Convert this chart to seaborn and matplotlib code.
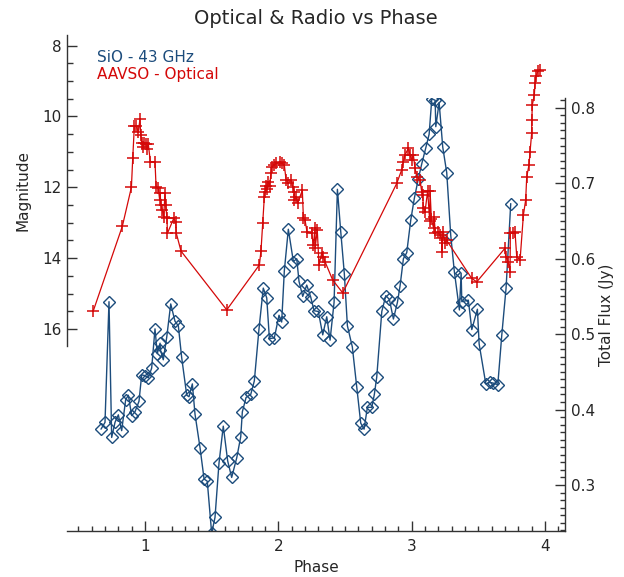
import matplotlib
matplotlib.use("Agg")
import matplotlib.pyplot as plt
import seaborn as sns
from matplotlib.ticker import MultipleLocator

# AAVSO optical light curve (phase, visual magnitude)
opt_phase = [0.612, 0.830, 0.898, 0.908, 0.920, 0.935, 0.950, 0.962, 0.968, 0.975,
             0.985, 0.995, 1.005, 1.015, 1.025, 1.040, 1.075, 1.083, 1.100, 1.110,
             1.113, 1.120, 1.130, 1.140, 1.150, 1.155, 1.165, 1.168, 1.215, 1.230,
             1.235, 1.270, 1.613, 1.858, 1.870, 1.883, 1.895, 1.903, 1.910, 1.915,
             1.925, 1.935, 1.945, 1.950, 1.970, 1.983, 2.015, 2.028, 2.045, 2.058,
             2.075, 2.095, 2.107, 2.120, 2.121, 2.133, 2.145, 2.180, 2.188, 2.200,
             2.215, 2.250, 2.263, 2.275, 2.276, 2.292, 2.305, 2.325, 2.338, 2.350,
             2.408, 2.483, 2.888, 2.925, 2.938, 2.950, 2.975, 2.988, 3.000, 3.013,
             3.025, 3.038, 3.063, 3.075, 3.083, 3.088, 3.100, 3.120, 3.135, 3.138,
             3.148, 3.165, 3.168, 3.178, 3.195, 3.213, 3.225, 3.226, 3.238, 3.250,
             3.263, 3.450, 3.488, 3.700, 3.705, 3.725, 3.738, 3.740, 3.758, 3.775,
             3.788, 3.813, 3.838, 3.855, 3.863, 3.880, 3.888, 3.900, 3.901, 3.905,
             3.920, 3.925, 3.935, 3.945, 3.960]
opt_mag = [15.49, 13.10, 12.00, 11.18, 10.28, 10.27, 10.45, 10.08, 10.53, 10.75,
           10.85, 10.75, 10.78, 10.93, 10.78, 11.28, 11.28, 11.98, 12.03, 12.36,
           12.17, 12.50, 12.64, 12.83, 12.17, 12.50, 12.88, 13.30, 12.88, 12.97,
           13.30, 13.80, 15.46, 14.19, 13.79, 13.00, 12.27, 12.12, 11.95, 12.05,
           11.85, 11.95, 11.60, 11.42, 11.37, 11.32, 11.28, 11.32, 11.37, 11.79,
           11.89, 11.79, 11.98, 12.12, 12.36, 12.27, 12.45, 12.08, 12.88, 12.92,
           13.25, 13.30, 13.63, 13.16, 13.72, 13.20, 14.19, 13.86, 13.96, 14.10,
           14.62, 14.98, 11.89, 11.51, 11.28, 11.09, 10.90, 11.09, 11.23, 11.09,
           11.46, 11.70, 11.79, 12.12, 12.22, 12.59, 12.69, 12.10, 12.95, 12.10,
           12.90, 13.16, 12.83, 13.30, 13.25, 13.35, 13.44, 13.82, 13.25, 13.58,
           13.50, 14.57, 14.67, 13.72, 13.96, 14.10, 14.38, 13.30, 13.28, 13.25,
           13.96, 14.05, 12.78, 12.36, 11.70, 11.37, 10.99, 10.47, 10.10, 9.67,
           9.40, 9.05, 8.85, 8.72, 8.70]

# SiO v=1 J=1-0 (43 GHz) total flux (phase, Jy)
sio_phase = [0.670, 0.700, 0.730, 0.750, 0.775, 0.800, 0.825, 0.855, 0.875, 0.900,
             0.925, 0.955, 0.975, 1.000, 1.025, 1.050, 1.075, 1.092, 1.113, 1.116,
             1.137, 1.163, 1.193, 1.225, 1.250, 1.275, 1.313, 1.330, 1.355, 1.375,
             1.413, 1.443, 1.467, 1.500, 1.525, 1.555, 1.587, 1.620, 1.650, 1.688,
             1.718, 1.730, 1.758, 1.793, 1.820, 1.855, 1.887, 1.913, 1.933, 1.970,
             2.005, 2.025, 2.045, 2.075, 2.113, 2.138, 2.155, 2.183, 2.213, 2.243,
             2.268, 2.300, 2.333, 2.363, 2.388, 2.418, 2.443, 2.468, 2.495, 2.518,
             2.555, 2.588, 2.618, 2.643, 2.668, 2.701, 2.720, 2.738, 2.776, 2.806,
             2.833, 2.863, 2.893, 2.913, 2.938, 2.963, 2.993, 3.020, 3.050, 3.076,
             3.106, 3.131, 3.151, 3.176, 3.181, 3.206, 3.233, 3.263, 3.293, 3.320,
             3.358, 3.371, 3.376, 3.425, 3.451, 3.493, 3.506, 3.556, 3.588, 3.613,
             3.646, 3.676, 3.708, 3.743]
sio_flux = [0.374, 0.383, 0.543, 0.363, 0.383, 0.393, 0.372, 0.413, 0.419, 0.392,
            0.397, 0.411, 0.446, 0.445, 0.442, 0.455, 0.507, 0.474, 0.488, 0.479,
            0.466, 0.496, 0.540, 0.517, 0.511, 0.469, 0.419, 0.417, 0.434, 0.394,
            0.349, 0.308, 0.305, 0.236, 0.257, 0.329, 0.378, 0.332, 0.310, 0.336,
            0.364, 0.397, 0.416, 0.420, 0.438, 0.507, 0.561, 0.548, 0.494, 0.495,
            0.525, 0.516, 0.584, 0.639, 0.596, 0.600, 0.570, 0.550, 0.565, 0.549,
            0.531, 0.530, 0.499, 0.523, 0.492, 0.542, 0.692, 0.636, 0.580, 0.511,
            0.483, 0.430, 0.382, 0.374, 0.403, 0.403, 0.420, 0.443, 0.530, 0.551,
            0.546, 0.520, 0.542, 0.564, 0.600, 0.608, 0.651, 0.680, 0.706, 0.726,
            0.747, 0.765, 0.812, 0.810, 0.775, 0.807, 0.748, 0.714, 0.631, 0.583,
            0.532, 0.581, 0.543, 0.545, 0.506, 0.533, 0.487, 0.434, 0.436, 0.435,
            0.433, 0.499, 0.561, 0.673]

RED = "#d40808"
BLUE = "#1c4c7c"

sns.set_style("ticks")
plt.rcParams["font.family"] = ["DejaVu Sans"]

W, H = 624, 577
fig = plt.figure(figsize=(W / 100, H / 100), dpi=100)

# flux axes (bottom phase axis + right flux axis)
ax_f = fig.add_axes([67 / W, 46 / H, 498 / W, 433 / H])
# magnitude axes (upper part, left axis only)
ax_m = fig.add_axes([67 / W, 231 / H, 498 / W, 311 / H])
ax_m.set_facecolor("none")

sns.lineplot(x=sio_phase, y=sio_flux, ax=ax_f, sort=False, estimator=None,
             color=BLUE, lw=1, marker="D", markersize=6.5,
             markerfacecolor="none", markeredgecolor=BLUE, markeredgewidth=1)
sns.lineplot(x=opt_phase, y=opt_mag, ax=ax_m, sort=False, estimator=None,
             color=RED, lw=0.9, marker="+", markersize=9,
             markeredgecolor=RED, markeredgewidth=1.1)

xlim = (0.415, 4.15)
ax_f.set_xlim(*xlim)
ax_m.set_xlim(*xlim)
ax_f.set_ylim(0.239, 0.813)
ax_m.set_ylim(16.48, 7.70)

spine_col = "#333333"
for s in ["left", "top"]:
    ax_f.spines[s].set_visible(False)
for s in ["right", "top", "bottom"]:
    ax_m.spines[s].set_visible(False)
for ax, sides in [(ax_f, ["bottom", "right"]), (ax_m, ["left"])]:
    for s in sides:
        ax.spines[s].set_color(spine_col)
        ax.spines[s].set_linewidth(1)

ax_f.yaxis.tick_right()
ax_f.yaxis.set_label_position("right")
ax_f.xaxis.set_major_locator(MultipleLocator(1))
ax_f.xaxis.set_minor_locator(MultipleLocator(0.1))
ax_f.yaxis.set_major_locator(MultipleLocator(0.1))
ax_f.yaxis.set_minor_locator(MultipleLocator(0.01))
ax_f.tick_params(which="major", direction="in", length=7, width=1,
                 color=spine_col, labelsize=11, pad=6)
ax_f.tick_params(which="minor", direction="in", length=3.5, width=1,
                 color=spine_col)
ax_f.tick_params(axis="y", pad=4)

ax_m.yaxis.set_major_locator(MultipleLocator(2))
ax_m.yaxis.set_minor_locator(MultipleLocator(0.5))
ax_m.tick_params(axis="x", which="both", bottom=False, labelbottom=False)
ax_m.tick_params(axis="y", which="major", direction="in", length=7.5, width=1,
                 color=spine_col, labelsize=11, pad=4)
ax_m.tick_params(axis="y", which="minor", direction="in", length=4, width=1,
                 color=spine_col)

ax_f.set_xlabel("Phase", fontsize=11, labelpad=4)
ax_f.set_ylabel("Total Flux (Jy)", fontsize=11, labelpad=3)
ax_m.set_ylabel("Magnitude", fontsize=11, labelpad=8)

fig.text(316 / W, 1 - 18 / H, "Optical & Radio vs Phase", ha="center",
         va="center", fontsize=14)
fig.text(97 / W, 1 - 57 / H, "SiO - 43 GHz", color=BLUE, fontsize=11,
         va="center")
fig.text(97 / W, 1 - 75 / H, "AAVSO - Optical", color=RED, fontsize=11,
         va="center")

plt.savefig("out.png", dpi=100)
